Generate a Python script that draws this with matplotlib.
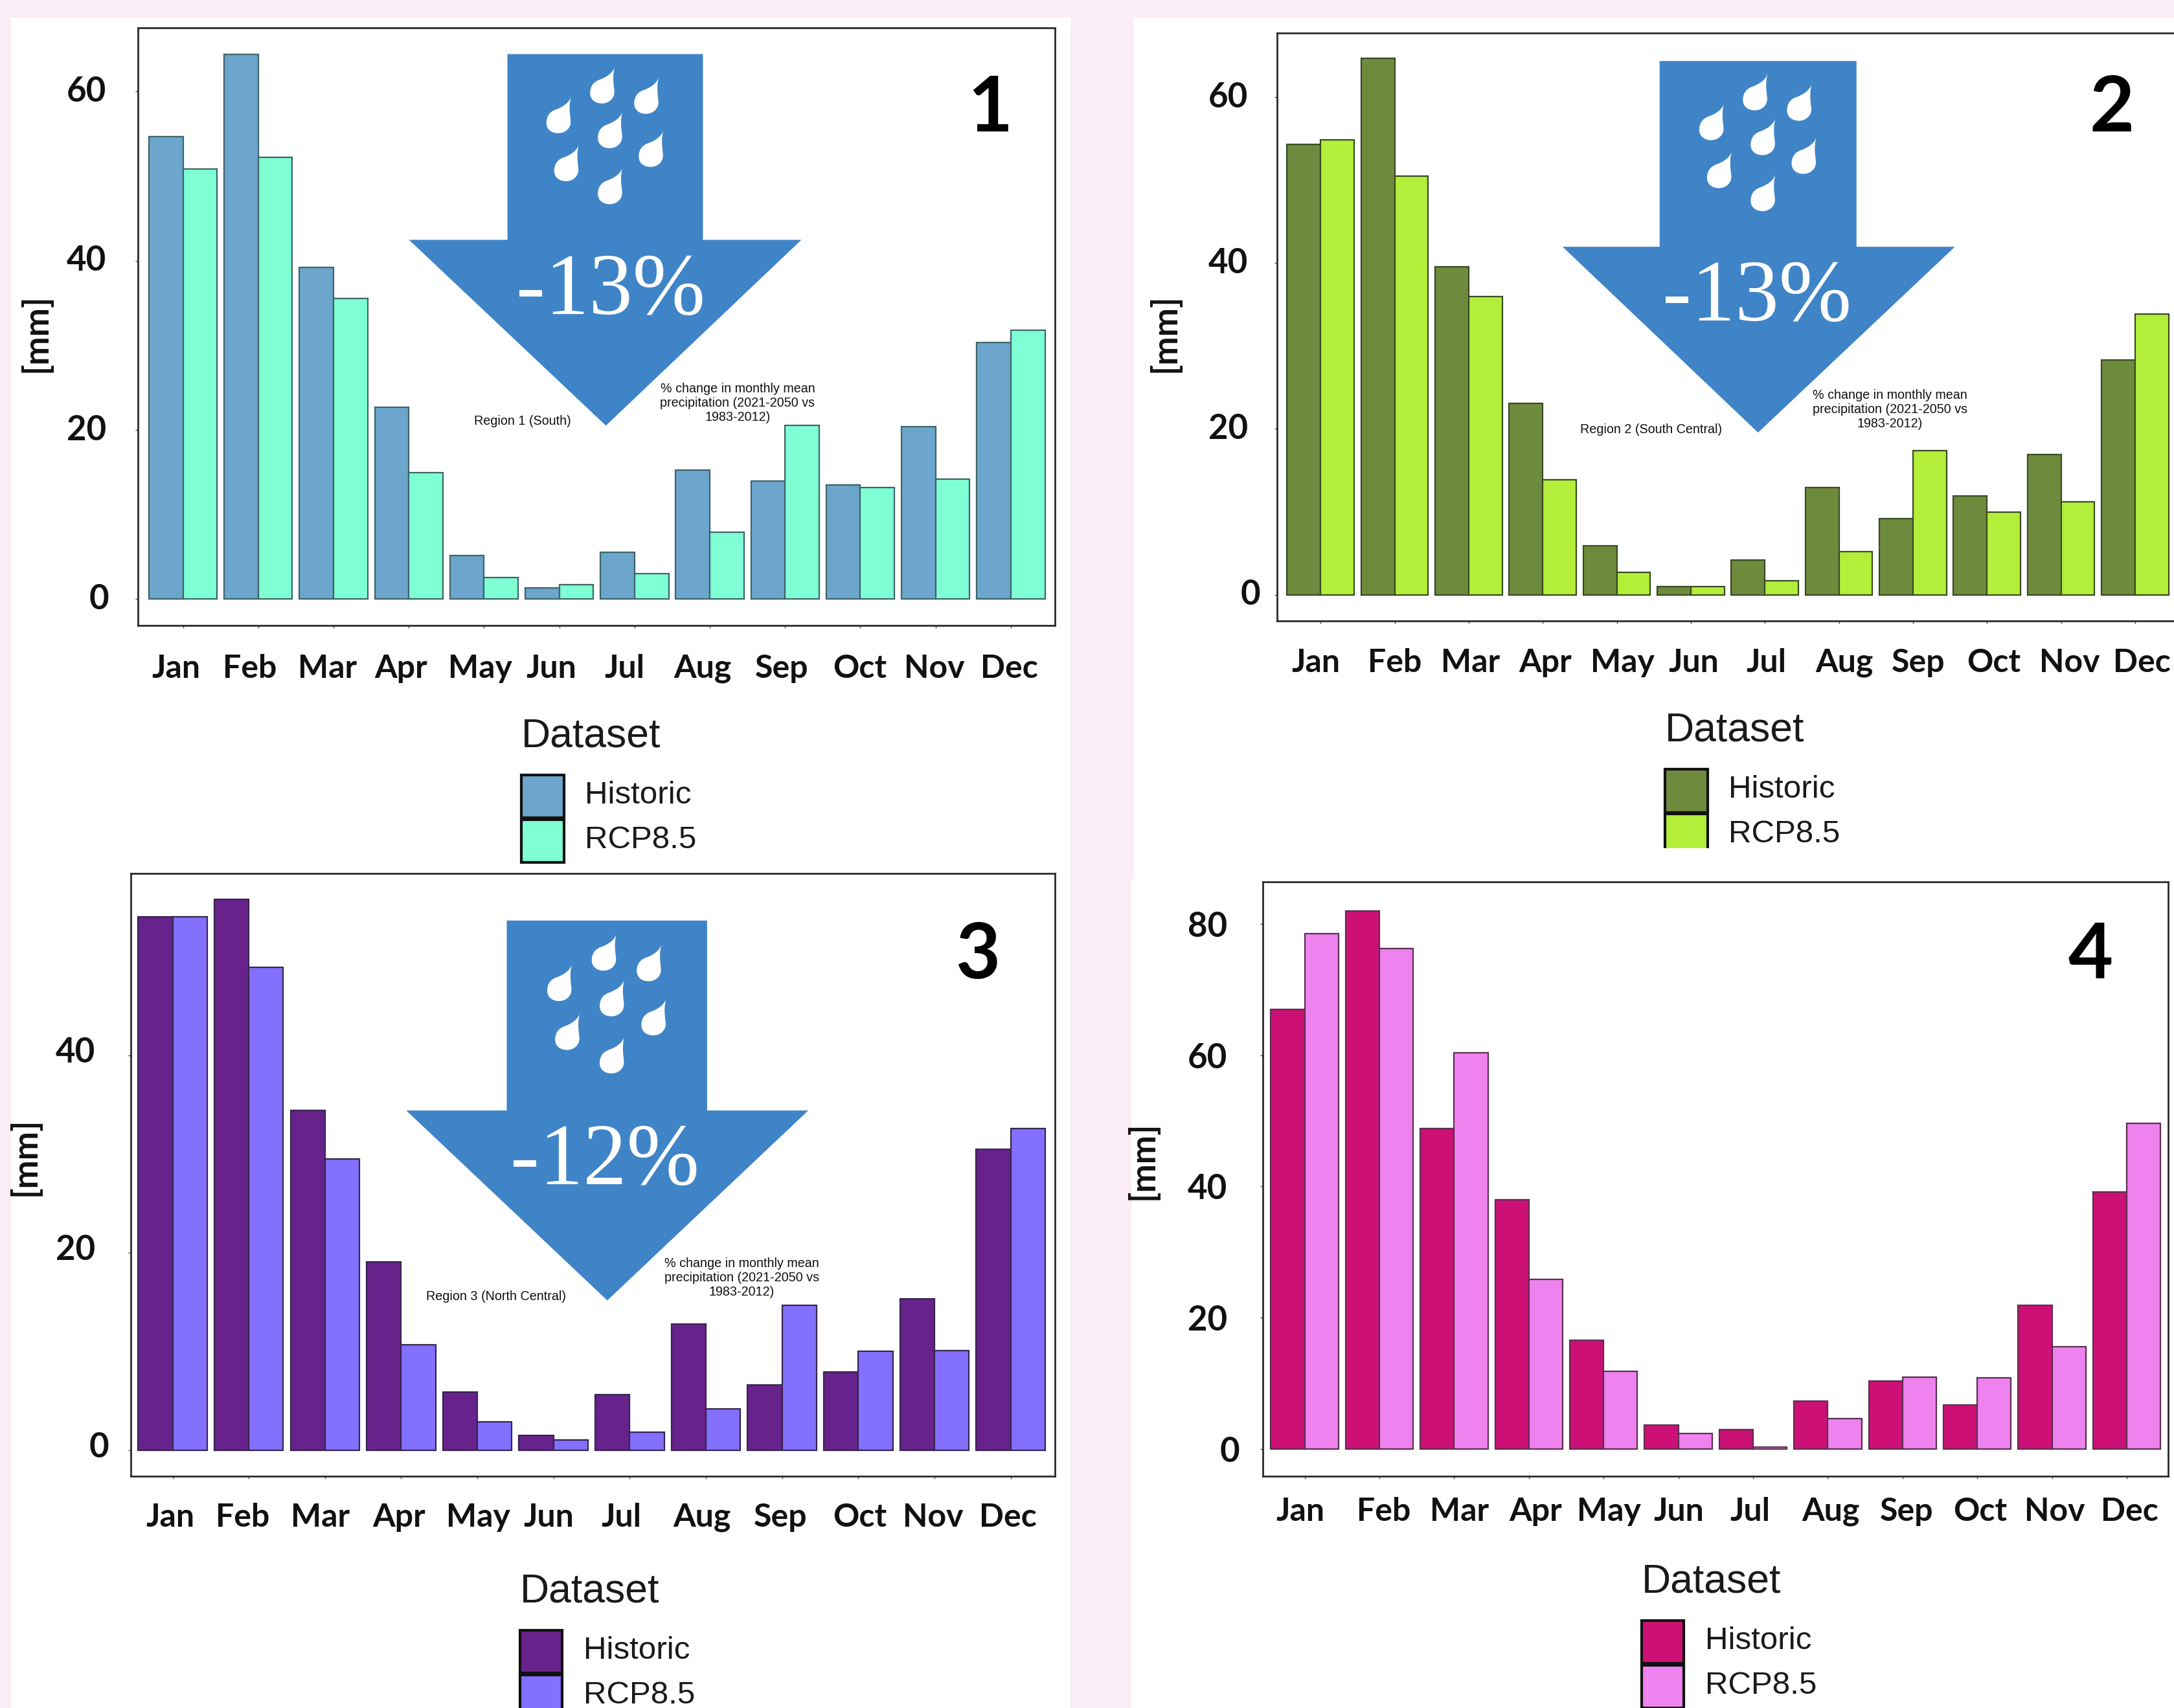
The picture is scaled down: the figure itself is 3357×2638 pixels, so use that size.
import numpy as np
import matplotlib
matplotlib.use("Agg")
import matplotlib.pyplot as plt
from matplotlib.patches import Polygon, Rectangle, Patch, PathPatch
from matplotlib.path import Path
from matplotlib.transforms import Affine2D, ScaledTranslation

months = ["Jan", "Feb", "Mar", "Apr", "May", "Jun", "Jul", "Aug", "Sep", "Oct", "Nov", "Dec"]

hist_1 = [54.7, 64.4, 39.2, 22.7, 5.1, 1.3, 5.5, 15.2, 13.9, 13.5, 20.4, 30.3]
rcp_1 = [50.8, 52.2, 35.5, 14.9, 2.5, 1.7, 3.0, 7.9, 20.5, 13.2, 14.2, 31.8]
hist_2 = [54.3, 64.7, 39.6, 23.1, 5.9, 1.0, 4.2, 12.9, 9.2, 11.9, 16.9, 28.3]
rcp_2 = [54.9, 50.5, 36.0, 13.9, 2.7, 1.0, 1.7, 5.2, 17.4, 10.0, 11.2, 33.9]
hist_3 = [54.0, 55.8, 34.4, 19.1, 5.9, 1.5, 5.6, 12.8, 6.6, 7.9, 15.3, 30.5]
rcp_3 = [54.0, 48.9, 29.5, 10.7, 2.9, 1.0, 1.8, 4.2, 14.7, 10.0, 10.1, 32.6]
hist_4 = [67.0, 82.0, 48.8, 38.0, 16.5, 3.6, 2.9, 7.3, 10.3, 6.7, 21.9, 39.2]
rcp_4 = [78.6, 76.3, 60.4, 25.8, 11.8, 2.3, 0.3, 4.6, 10.9, 10.8, 15.6, 49.6]

yticks_1 = [0, 20, 40, 60]
yticks_2 = [0, 20, 40, 60]
yticks_3 = [0, 20, 40]
yticks_4 = [0, 20, 40, 60, 80]

W, H = 1568.0, 1232.0
fig = plt.figure(figsize=(33.57, 26.38), dpi=100, facecolor="#FAEDF6")
T = Affine2D().scale(1 / W, -1 / H).translate(0, 1) + fig.transFigure
S = 3357 / 1568 * 72 / 100  # preview px -> points

TICK_FONT = "Lato"
LEG_FONT = "Liberation Sans"

# white paper behind each panel
for (x0, y0, x1, y1) in [(8, 12.5, 772, 625), (8, 625, 772, 1232),
                         (818, 12.5, 1568, 634), (816, 634, 1568, 1232)]:
    fig.add_artist(Rectangle((x0, y0), x1 - x0, y1 - y0, transform=T, fc="white", ec="none", zorder=-5))

panels = [
    dict(hist=hist_1, rcp=rcp_1, yt=yticks_1, c=("#6CA6CD", "#7FFFD4"), ec="#3E6468",
         box=(99.5, 20, 761, 451), c0=132, step=54.28, y0=432, unit=6.1,
         lab=[-5, -6.2, -4.4, -5.5, -2.7, -6, -7, -5.2, -2.4, -0.6, -0.8, -1], ydy=2,
         xpad=29, ypad=32, zdx=2,
         ylab=(26, 240), leg=(376, 517), num=("1", 714, 79)),
    dict(hist=hist_2, rcp=rcp_2, yt=yticks_2, c=("#6E8B3D", "#B3EE3A"), ec="#3A4A24",
         box=(921, 24, 1573, 448), c0=952.5, step=53.4, y0=429, unit=5.98,
         lab=[-3.5, 0, 1, 2, 4, 2, 1, 4, 4, 5, 6, 5], ydy=2,
         xpad=27, ypad=29, zdx=9,
         ylab=(840, 240), leg=(1201, 513), num=("2", 1523, 79)),
    dict(hist=hist_3, rcp=rcp_3, yt=yticks_3, c=("#68228B", "#8470FF"), ec="#35254F",
         box=(94.5, 630, 761, 1065), c0=124.5, step=54.95, y0=1046, unit=7.12,
         lab=[-1.5, -4.5, -3.5, -1.5, 0.5, -3.5, -6, -3, -1, 1, -1, -2], ydy=4,
         xpad=26, ypad=37, zdx=10,
         ylab=(18, 834), leg=(375, 1134), num=("3", 705, 690)),
    dict(hist=hist_4, rcp=rcp_4, yt=yticks_4, c=("#CD1076", "#EE82EE"), ec="#5A3050",
         box=(911, 636, 1564, 1065), c0=941, step=53.9, y0=1045, unit=4.73,
         lab=[-3, 3, 4, 5, 4, 0.5, -2, 2, 3, 2, 2, 2], ydy=0,
         xpad=20, ypad=37, zdx=9,
         ylab=(824, 837), leg=(1184, 1127), num=("4", 1508, 690)),
]

for p in panels:
    L, Tp, R, B = p["box"]
    ax = fig.add_axes([L / W, 1 - B / H, (R - L) / W, (B - Tp) / H], facecolor="white", zorder=1)
    x = np.arange(12)
    w = 0.453
    ax.bar(x - w / 2, p["hist"], w, color=p["c"][0], edgecolor=p["ec"], linewidth=1.6, label="Historic")
    ax.bar(x + w / 2, p["rcp"], w, color=p["c"][1], edgecolor=p["ec"], linewidth=1.6, label="RCP8.5")
    ax.set_xlim((L - p["c0"]) / p["step"], (R - p["c0"]) / p["step"])
    ax.set_ylim((p["y0"] - B) / p["unit"], (p["y0"] - Tp) / p["unit"])
    ax.set_xticks(x)
    ax.set_xticklabels(months)
    ax.set_yticks(p["yt"])
    ax.tick_params(axis="both", length=3, width=1, color="#444444")
    ax.tick_params(axis="x", pad=p["xpad"])
    ax.tick_params(axis="y", pad=p["ypad"])
    for s in ax.spines.values():
        s.set_linewidth(2)
        s.set_color("#2A2A2A")
    for lab, dx in zip(ax.get_xticklabels(), p["lab"]):
        lab.set_fontfamily(TICK_FONT)
        lab.set_fontweight("bold")
        lab.set_fontsize(36)
        lab.set_color("#111111")
        lab.set_transform(lab.get_transform() + ScaledTranslation(dx * S / 72, 0, fig.dpi_scale_trans))
    for lab, v in zip(ax.get_yticklabels(), p["yt"]):
        lab.set_fontfamily(TICK_FONT)
        lab.set_fontweight("bold")
        lab.set_fontsize(38)
        lab.set_color("#111111")
        dx = p["zdx"] if v == 0 else 0
        lab.set_transform(lab.get_transform() + ScaledTranslation(dx * S / 72, p["ydy"] * S / 72, fig.dpi_scale_trans))
    ax.set_ylabel("[mm]", fontfamily=TICK_FONT, fontweight="bold", fontsize=38, color="#111111", va="center")
    ax.yaxis.set_label_coords(p["ylab"][0], p["ylab"][1], transform=T)

    handles = [Patch(facecolor=p["c"][0], edgecolor="#111111", linewidth=3, label="Historic"),
               Patch(facecolor=p["c"][1], edgecolor="#111111", linewidth=3, label="RCP8.5")]
    leg = ax.legend(handles=handles, title="Dataset", loc="upper left",
                    bbox_to_anchor=p["leg"], bbox_transform=T, frameon=False,
                    prop={"family": LEG_FONT, "size": 35.5},
                    title_fontproperties={"family": LEG_FONT, "size": 45},
                    alignment="left", borderpad=0, borderaxespad=0,
                    handlelength=1.33, handleheight=1.7, handletextpad=0.66, labelspacing=0.05)
    leg._legend_box.sep = 22
    leg.set_zorder(10)
    for t in leg.get_texts():
        t.set_color("#1A1A1A")
        t.set_y(5)
    leg.get_title().set_color("#1A1A1A")
    n, nx, ny = p["num"]
    fig.text(nx, ny, n, transform=T, ha="center", va="center", fontfamily=TICK_FONT,
             fontweight="bold", fontsize=86, color="black", zorder=6)

# panel 2 legend is cut off by the paper below it
fig.add_artist(Rectangle((1180, 612), 200, 22, transform=T, fc="white", ec="none", zorder=4))

# rain-drop outline, unit sized: body centred on the origin, tip up-right
drop_verts = [(9.0, -18.5), (8.2, -13), (2, -9.5), (-2.5, -8), (-8, -6), (-9, -1.5), (-9, 1.5),
              (-9, 6.5), (-5, 9), (-0.5, 9), (5, 9), (8.5, 5), (8.5, 1), (8.5, -3), (6.5, -9), (9.0, -18.5)]
drop_codes = [Path.MOVETO] + [Path.CURVE4] * 15
drop = Path(drop_verts, drop_codes)
drop_offsets = [(-33.4, 48.1), (-1.9, 26.6), (29.9, 34.1), (3.7, 58.9), (33.2, 72.4), (-27.8, 82.7), (3.7, 99.3)]

arrows = [
    dict(shaft=(366, 507), top=39, sh=173, head=(295, 578), tip=(437, 307), txt="-13%", tc=(440.5, 211),
         region=("Region 1 (South)", 377, 304), note=(532, 290.5), sy=1.0),
    dict(shaft=(1197, 1339), top=44, sh=178, head=(1127, 1410), tip=(1268, 312), txt="-13%", tc=(1267, 216),
         region=("Region 2 (South Central)", 1191, 310), note=(1363, 295.5), sy=1.0),
    dict(shaft=(365.5, 510), top=664, sh=801, head=(293, 583), tip=(438, 938), txt="-12%", tc=(436, 839),
         region=("Region 3 (North Central)", 358, 935), note=(535, 921.5), sy=1.02),
]
NOTE = "% change in monthly mean\nprecipitation (2021-2050 vs\n1983-2012)"
for a in arrows:
    s0, s1 = a["shaft"]
    h0, h1 = a["head"]
    verts = [(s0, a["top"]), (s1, a["top"]), (s1, a["sh"]), (h1, a["sh"]), a["tip"], (h0, a["sh"]), (s0, a["sh"])]
    fig.add_artist(Polygon(verts, closed=True, transform=T, fc="#3F84C7", ec="none", zorder=5))
    cx = (s0 + s1) / 2
    for dx, dy in drop_offsets:
        tr = Affine2D().translate(cx + dx * a["sy"], a["top"] + dy * a["sy"]) + T
        fig.add_artist(PathPatch(drop, transform=tr, fc="white", ec="none", zorder=6))
    fig.text(a["tc"][0], a["tc"][1], a["txt"], transform=T, ha="center", va="center",
             fontfamily="Liberation Serif", fontsize=97, color="white", zorder=7)
    t, tx, ty = a["region"]
    fig.text(tx, ty, t, transform=T, ha="center", va="center", fontfamily="Liberation Sans",
             fontsize=14.2, color="#111111", zorder=7)
    fig.text(a["note"][0], a["note"][1], NOTE, transform=T, ha="center", va="center",
             fontfamily="Liberation Sans", fontsize=14.2, color="#111111", linespacing=1.2, zorder=7)

fig.savefig("out.png", dpi=100, facecolor=fig.get_facecolor())
